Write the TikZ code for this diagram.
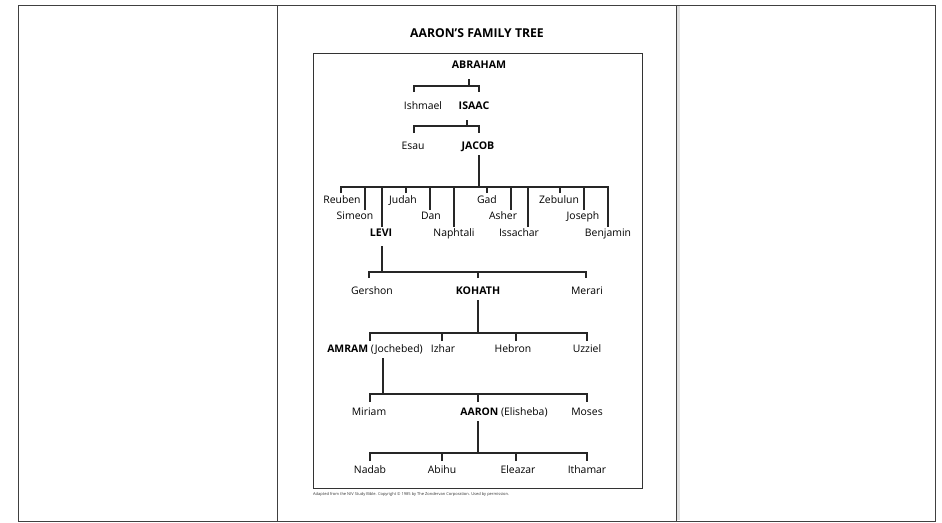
\documentclass[tikz,border=0pt]{standalone}
\usepackage{fontspec}
\setmainfont{Open Sans}
\usetikzlibrary{positioning, calc}
\tikzset{
        name-node/.style={
            inner xsep=0pt, inner ysep=3.5pt, text height=7pt, text depth=2pt,
            font=\fontsize{10.4}{11}\selectfont
        },
        head-node/.style={
            name-node, font=\fontsize{10.6}{11}\selectfont\bfseries
        },
        fam-line/.style={line width=1.6pt, black!85},
        frame-line/.style={line width=1pt, black!75},
}

\begin{document}
\begin{tikzpicture}[x=1pt, y=-1pt]
        \useasboundingbox (0,0) rectangle (942,522);

        %DRAW FRAME (three panels, the page in the middle one)
        \draw [frame-line] (18,5) rectangle (935,521);
        \draw [frame-line] (277,5) -- (277,521);
        \draw [frame-line] (676,5) -- (676,521);
        \fill [black!12] (677,6) rectangle (680,520);
        \draw [line width=1pt, black!80] (313,53) rectangle (642,488);

        %DRAW NODES
        \node [head-node, font=\fontsize{12.2}{13}\selectfont\bfseries] (TITLE) at (477,35) {AARON’S FAMILY TREE};
        \node [head-node] (ABRAHAM)  at (479,66)   {ABRAHAM};
        \node [name-node] (ISHMAEL)  at (423,107)  {Ishmael};
        \node [head-node] (ISAAC)    at (474,107)  {ISAAC};
        \node [name-node] (ESAU)     at (413,147)  {Esau};
        \node [head-node] (JACOB)    at (478,147)  {JACOB};
        \node [name-node] (REUBEN)   at (342,201)  {Reuben};
        \node [name-node] (JUDAH)    at (403,201)  {Judah};
        \node [name-node] (GAD)      at (487,201)  {Gad};
        \node [name-node] (ZEBULUN)  at (559,201)  {Zebulun};
        \node [name-node] (SIMEON)   at (355,217)  {Simeon};
        \node [name-node] (DAN)      at (431,217)  {Dan};
        \node [name-node] (ASHER)    at (503,217)  {Asher};
        \node [name-node] (JOSEPH)   at (583,217)  {Joseph};
        \node [head-node] (LEVI)     at (381,234)  {LEVI};
        \node [name-node] (NAPHTALI) at (454,234)  {Naphtali};
        \node [name-node] (ISSACHAR) at (519,234)  {Issachar};
        \node [name-node] (BENJAMIN) at (608,234)  {Benjamin};
        \node [name-node] (GERSHON)  at (372,292)  {Gershon};
        \node [head-node] (KOHATH)   at (478,292)  {KOHATH};
        \node [name-node] (MERARI)   at (587,292)  {Merari};
        \node [name-node] (AMRAM)    at (375,350)  {\textbf{AMRAM} (Jochebed)};
        \node [name-node] (IZHAR)    at (443,350)  {Izhar};
        \node [name-node] (HEBRON)   at (513,350)  {Hebron};
        \node [name-node] (UZZIEL)   at (587,350)  {Uzziel};
        \node [name-node] (MIRIAM)   at (369,413)  {Miriam};
        \node [name-node] (AARON)    at (504,413)  {\textbf{AARON} (Elisheba)};
        \node [name-node] (MOSES)    at (587,413)  {Moses};
        \node [name-node] (NADAB)    at (370,471)  {Nadab};
        \node [name-node] (ABIHU)    at (442,471)  {Abihu};
        \node [name-node] (ELEAZAR)  at (518,471)  {Eleazar};
        \node [name-node] (ITHAMAR)  at (587,471)  {Ithamar};
        \node [anchor=west, inner sep=0pt, font=\fontsize{4}{5}\selectfont, black!80] (CREDIT) at (313,494)
              {Adapted from the NIV Study Bible. Copyright \textcopyright\ 1985 by The Zondervan Corporation. Used by permission.};

        % CONNECT ABRAHAM
        \coordinate (abar) at (469,86);
        \coordinate (dishmael) at (414,92);
        \coordinate (disaac) at (479,92);
        \draw [fam-line] (abar |- ABRAHAM.south) ++(0,5) -- (abar);
        \draw [fam-line] (dishmael) -- (dishmael |- abar) -- (disaac |- abar) -- (disaac);

        % CONNECT ISAAC
        \coordinate (ibar) at (467,126);
        \coordinate (desau) at (414,133);
        \coordinate (djacob) at (479,133);
        \draw [fam-line] (ibar |- ISAAC.south) ++(0,5) -- (ibar);
        \draw [fam-line] (desau) -- (desau |- ibar) -- (djacob |- ibar) -- (djacob);

        % CONNECT JACOB
        \coordinate (jbar) at (479,187);
        \coordinate (dreuben) at (341,193);
        \coordinate (dbenjamin) at (608,227);
        \draw [fam-line] (jbar |- JACOB.south) -- (jbar);
        \draw [fam-line] (dreuben) -- (dreuben |- jbar) -- (dbenjamin |- jbar) -- (dbenjamin);
        \foreach \x/\y in {406/193, 487/193, 560/193, 365/210, 430/210, 511/210, 584/210, 382/227, 454/227, 528/227}
            \draw [fam-line] (\x,\y) -- (\x,187);

        % CONNECT LEVI
        \coordinate (lbar) at (382,272);
        \coordinate (dgershon) at (369,278);
        \coordinate (dkohath) at (478,278);
        \coordinate (dmerari) at (586,278);
        \draw [fam-line] (lbar |- LEVI.south) ++(0,4) -- (lbar);
        \draw [fam-line] (dgershon) -- (dgershon |- lbar) -- (dmerari |- lbar) -- (dmerari);
        \draw [fam-line] (dkohath) -- (dkohath |- lbar);

        % CONNECT KOHATH
        \coordinate (kbar) at (478,333);
        \coordinate (damram) at (370,341);
        \coordinate (duzziel) at (587,341);
        \draw [fam-line] (kbar |- KOHATH.south) -- (kbar);
        \draw [fam-line] (damram) -- (damram |- kbar) -- (duzziel |- kbar) -- (duzziel);
        \draw [fam-line] (442,341) -- (442,333);
        \draw [fam-line] (516,341) -- (516,333);

        % CONNECT AMRAM
        \coordinate (ambar) at (383,394);
        \coordinate (dmiriam) at (370,402);
        \coordinate (daaron) at (478,402);
        \coordinate (dmoses) at (587,402);
        \draw [fam-line] (ambar |- AMRAM.south) -- (ambar);
        \draw [fam-line] (dmiriam) -- (dmiriam |- ambar) -- (dmoses |- ambar) -- (dmoses);
        \draw [fam-line] (daaron) -- (daaron |- ambar);

        % CONNECT AARON
        \coordinate (aabar) at (478,453);
        \coordinate (dnadab) at (370,461);
        \coordinate (dithamar) at (587,461);
        \draw [fam-line] (aabar |- AARON.south) -- (aabar);
        \draw [fam-line] (dnadab) -- (dnadab |- aabar) -- (dithamar |- aabar) -- (dithamar);
        \draw [fam-line] (442,461) -- (442,453);
        \draw [fam-line] (516,461) -- (516,453);

\end{tikzpicture}
\end{document}
